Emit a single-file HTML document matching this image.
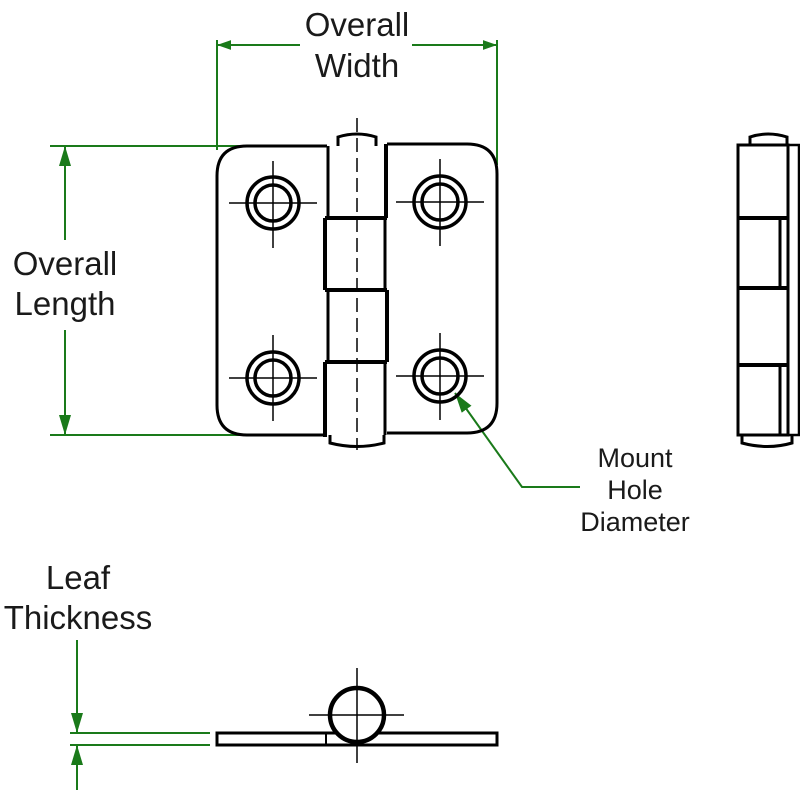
<!DOCTYPE html>
<html><head><meta charset="utf-8"><style>
html,body{margin:0;padding:0;background:#fff;}
svg{display:block}
text{font-family:"Liberation Sans",sans-serif;fill:#1a1a1a;}
</style></head><body>
<svg width="800" height="800" viewBox="0 0 800 800" xmlns="http://www.w3.org/2000/svg">
<defs>
<marker id="ar" viewBox="0 0 10 10" refX="10" refY="5" markerWidth="14" markerHeight="14" markerUnits="userSpaceOnUse" orient="auto-start-reverse">
<path d="M0,1.5 L10,5 L0,8.5 z" fill="#1a7a1a"/></marker>
<marker id="ar2" viewBox="0 0 10 10" refX="10" refY="5" markerWidth="20" markerHeight="20" markerUnits="userSpaceOnUse" orient="auto-start-reverse">
<path d="M0,2 L10,5 L0,8 z" fill="#1a7a1a"/></marker>
</defs>
<g stroke="#1a7a1a" stroke-width="2" fill="none">
<line x1="217" y1="40" x2="217" y2="150"/>
<line x1="497" y1="40" x2="497" y2="165"/>
<line x1="217" y1="45" x2="300" y2="45" marker-start="url(#ar)"/>
<line x1="412" y1="45" x2="497" y2="45" marker-end="url(#ar)"/>
<line x1="50" y1="146" x2="245" y2="146"/>
<line x1="50" y1="435" x2="240" y2="435"/>
<line x1="65" y1="146" x2="65" y2="240" marker-start="url(#ar2)"/>
<line x1="65" y1="330" x2="65" y2="435" marker-end="url(#ar2)"/>
<polyline points="580,487 522,487 455,393" marker-end="url(#ar2)"/>
<line x1="70" y1="733" x2="210" y2="733"/>
<line x1="70" y1="745" x2="210" y2="745"/>
<line x1="77" y1="640" x2="77" y2="733" marker-end="url(#ar2)"/>
<line x1="77" y1="790" x2="77" y2="745" marker-end="url(#ar2)"/>
</g>
<g font-size="33" text-anchor="middle">
<text x="357" y="36">Overall</text>
<text x="357" y="77">Width</text>
<text x="65" y="275">Overall</text>
<text x="65" y="315">Length</text>
<text x="78" y="589">Leaf</text>
<text x="78" y="629">Thickness</text>
</g>
<g font-size="27" text-anchor="middle">
<text x="635" y="467">Mount</text>
<text x="635" y="499">Hole</text>
<text x="635" y="531">Diameter</text>
</g>
<g stroke="#000" stroke-width="3" fill="none">
<path d="M338,146 L338,137 Q357,131 376,137 L376,146" fill="#fff"/>
<path d="M330,435 L330,443 Q357,450 384,443 L384,435" fill="#fff"/>
<path d="M327,146 L247,146 Q217,146 217,176 L217,405 Q217,435 247,435 L327,435"/>
<path d="M387,144 L467,144 Q497,144 497,174 L497,403 Q497,433 467,433 L387,433"/>
<line x1="328" y1="146" x2="328" y2="218"/>
<line x1="386" y1="144" x2="386" y2="218" stroke-width="4"/>
<line x1="325" y1="218" x2="325" y2="290" stroke-width="4"/>
<line x1="385" y1="218" x2="385" y2="290"/>
<line x1="328" y1="290" x2="328" y2="362"/>
<line x1="387" y1="290" x2="387" y2="362" stroke-width="4"/>
<line x1="325" y1="362" x2="325" y2="437" stroke-width="4"/>
<line x1="385" y1="362" x2="385" y2="435"/>
<line x1="325" y1="218" x2="387" y2="218" stroke-width="4"/>
<line x1="325" y1="290" x2="387" y2="290" stroke-width="4"/>
<line x1="325" y1="362" x2="387" y2="362" stroke-width="4"/>
<g stroke-width="3.5">
<circle cx="273" cy="203" r="26"/><circle cx="273" cy="203" r="18"/>
<circle cx="440" cy="202" r="26"/><circle cx="440" cy="202" r="18"/>
<circle cx="273" cy="378" r="26"/><circle cx="273" cy="378" r="18"/>
<circle cx="440" cy="376" r="26"/><circle cx="440" cy="376" r="18"/>
</g>
<path d="M750,145 L750,137 Q768,131 787,137 L787,145" fill="#fff"/>
<path d="M742,435 L742,443 Q768,450 792,443 L792,435" fill="#fff"/>
<rect x="738" y="145" width="50" height="290"/>
<rect x="788" y="145" width="11" height="290" stroke-width="2.5"/>
<line x1="738" y1="218" x2="788" y2="218" stroke-width="4"/>
<line x1="738" y1="288" x2="788" y2="288" stroke-width="4"/>
<line x1="738" y1="365" x2="788" y2="365" stroke-width="4"/>
<line x1="780" y1="218" x2="780" y2="288"/>
<line x1="780" y1="365" x2="780" y2="435"/>
<rect x="217" y="733" width="280" height="12"/>
<line x1="326" y1="733" x2="326" y2="745" stroke-width="2"/>
<circle cx="357" cy="715" r="27" stroke-width="4.5" fill="#fff"/>
</g>
<g stroke="#000" stroke-width="1.5">
<line x1="229" y1="203" x2="317" y2="203"/><line x1="273" y1="161" x2="273" y2="248"/>
<line x1="396" y1="202" x2="484" y2="202"/><line x1="440" y1="159" x2="440" y2="246"/>
<line x1="229" y1="378" x2="317" y2="378"/><line x1="273" y1="335" x2="273" y2="421"/>
<line x1="396" y1="376" x2="484" y2="376"/><line x1="440" y1="333" x2="440" y2="420"/>
<line x1="357" y1="118" x2="357" y2="450" stroke-dasharray="14,6"/>
<line x1="309" y1="715" x2="404" y2="715"/><line x1="357" y1="668" x2="357" y2="763"/>
</g>
</svg>
</body></html>
